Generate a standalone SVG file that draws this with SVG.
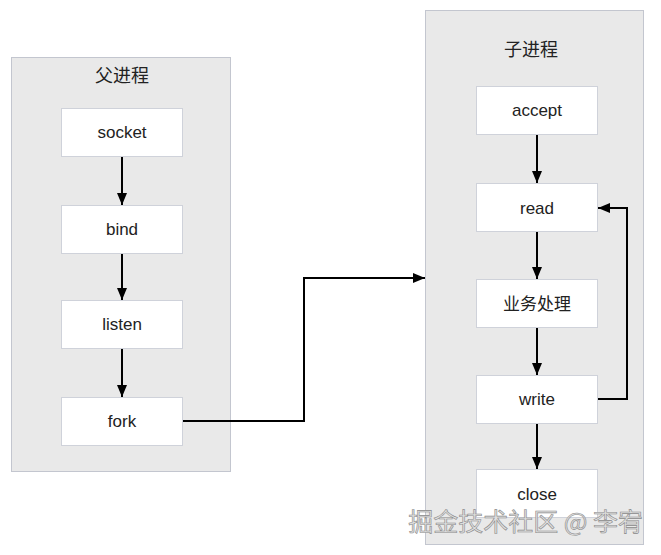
<svg xmlns="http://www.w3.org/2000/svg" width="661" height="555" viewBox="0 0 661 555">
<style>
.bg{fill:#ffffff}
.cont{fill:#e9e9e9;stroke:#c3c6cf;stroke-width:1}
.node rect{fill:#ffffff;stroke:#cfd2da;stroke-width:1}
.lbl{font-family:"Liberation Sans",Arial,sans-serif;font-size:17px;fill:#222;text-anchor:middle;dominant-baseline:central}
.title{font-family:"Noto Sans CJK SC","Liberation Sans",sans-serif;font-size:18px;fill:#222;text-anchor:middle;dominant-baseline:central}
.conn path{fill:none;stroke:#000;stroke-width:2}
.wm{font-family:"Noto Sans CJK SC",sans-serif;font-size:25px;fill:#e0e0e0;stroke:#8a8a8a;stroke-width:0.6;text-anchor:end}
</style>
<defs>
<marker id="ah" viewBox="0 0 12 10" refX="12" refY="5" markerWidth="12" markerHeight="10" markerUnits="userSpaceOnUse" orient="auto">
<path d="M0,0 L12,5 L0,10 z" fill="#000"/>
</marker>
</defs>
<rect class="bg" x="0" y="0" width="661" height="555"/>
<g id="parent">
<rect class="cont" x="11.5" y="57.5" width="219" height="414"/>
<text class="title" x="122" y="74">父进程</text>
</g>
<g id="child">
<rect class="cont" x="425.5" y="10.5" width="218" height="534"/>
<text class="title" x="531" y="48">子进程</text>
</g>
<g id="socket" class="node"><rect x="61.5" y="108.5" width="121" height="48"/><text class="lbl" x="122" y="132">socket</text></g>
<g id="bind" class="node"><rect x="61.5" y="205.5" width="121" height="48"/><text class="lbl" x="122" y="229">bind</text></g>
<g id="listen" class="node"><rect x="61.5" y="300.5" width="121" height="48"/><text class="lbl" x="122" y="324">listen</text></g>
<g id="fork" class="node"><rect x="61.5" y="397.5" width="121" height="48"/><text class="lbl" x="122" y="421">fork</text></g>
<g id="accept" class="node"><rect x="476.5" y="86.5" width="121" height="48"/><text class="lbl" x="537" y="110">accept</text></g>
<g id="read" class="node"><rect x="476.5" y="183.5" width="121" height="48"/><text class="lbl" x="537" y="208">read</text></g>
<g id="biz" class="node"><rect x="476.5" y="279.5" width="121" height="48"/><text class="title" x="537" y="302" style="font-size:17px">业务处理</text></g>
<g id="write" class="node"><rect x="476.5" y="375.5" width="121" height="48"/><text class="lbl" x="537" y="399">write</text></g>
<g id="close" class="node"><rect x="476.5" y="469.5" width="121" height="48"/><text class="lbl" x="537" y="494">close</text></g>
<g id="connectors" class="conn">
<path d="M122,157 V205" marker-end="url(#ah)"/>
<path d="M122,254 V300" marker-end="url(#ah)"/>
<path d="M122,349 V397" marker-end="url(#ah)"/>
<path d="M537,135 V183" marker-end="url(#ah)"/>
<path d="M537,232 V279" marker-end="url(#ah)"/>
<path d="M537,328 V375" marker-end="url(#ah)"/>
<path d="M537,424 V469" marker-end="url(#ah)"/>
<path d="M183,421 H304 V278 H425" marker-end="url(#ah)"/>
<path d="M598,399 H627 V208 H598" marker-end="url(#ah)"/>
</g>
<text class="wm" x="643" y="531">掘金技术社区 @ 李宥</text>
</svg>
